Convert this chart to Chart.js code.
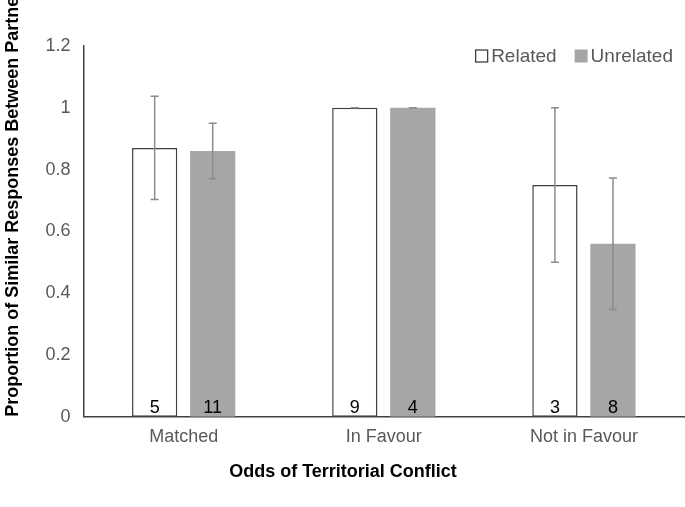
<!DOCTYPE html>
<html>
<head>
<meta charset="utf-8">
<script src="https://cdn.jsdelivr.net/npm/chart.js@4.4.0/dist/chart.umd.min.js"></script>
<style>
  html, body { margin: 0; padding: 0; background: #fff; }
  #wrap { width: 685px; height: 507px; }
</style>
</head>
<body>
<div id="wrap"><canvas id="chart"></canvas></div>
<script>
const categories = ["Matched", "In Favour", "Not in Favour"];
const related = [0.87, 1.0, 0.75];
const unrelated = [0.86, 1.0, 0.56];
const relatedErr = [0.167, 0, 0.25];
const unrelatedErr = [0.09, 0, 0.213];
const relatedN = [5, 9, 3];
const unrelatedN = [11, 4, 8];
const yTicks = [0, 0.2, 0.4, 0.6, 0.8, 1, 1.2];

const FONT = "'Liberation Sans', Arial, sans-serif";
Chart.defaults.font.family = FONT;

// error bars, counts in the bars and the little legend in the corner
const barExtras = {
  id: "barExtras",
  afterDatasetsDraw(chart) {
    const ctx = chart.ctx;
    const y = chart.scales.y;
    const errs = [relatedErr, unrelatedErr];
    const counts = [relatedN, unrelatedN];
    chart.data.datasets.forEach((ds, i) => {
      const meta = chart.getDatasetMeta(i);
      meta.data.forEach((bar, j) => {
        const v = ds.data[j];
        const e = errs[i][j];
        const top = y.getPixelForValue(v + e);
        const bot = y.getPixelForValue(v - e);
        ctx.save();
        ctx.strokeStyle = "#8c8c8c";
        ctx.lineWidth = 1.5;
        ctx.beginPath();
        ctx.moveTo(bar.x, top);
        ctx.lineTo(bar.x, bot);
        ctx.moveTo(bar.x - 4, top);
        ctx.lineTo(bar.x + 4, top);
        ctx.moveTo(bar.x - 4, bot);
        ctx.lineTo(bar.x + 4, bot);
        ctx.stroke();
        ctx.fillStyle = "#000";
        ctx.font = "18px " + FONT;
        ctx.textAlign = "center";
        ctx.textBaseline = "alphabetic";
        ctx.fillText(String(counts[i][j]), bar.x, y.getPixelForValue(0) - 4);
        ctx.restore();
      });
    });

    // legend
    const area = chart.chartArea;
    ctx.save();
    ctx.font = "19px " + FONT;
    ctx.textBaseline = "middle";
    ctx.textAlign = "left";
    const cy = area.top + 10;
    let x = area.right - 11;
    const items = chart.data.datasets.slice().reverse();
    items.forEach((ds) => {
      const w = ctx.measureText(ds.label).width;
      x -= w;
      ctx.fillStyle = "#595959";
      ctx.fillText(ds.label, x, cy + 1);
      x -= 16;
      ctx.fillStyle = ds.backgroundColor;
      ctx.fillRect(x, cy - 6.5, 13, 13);
      if (ds.borderWidth) {
        ctx.strokeStyle = ds.borderColor;
        ctx.lineWidth = 1.3;
        ctx.strokeRect(x + 0.5, cy - 6, 12, 12);
      }
      x -= 18;
    });
    ctx.restore();
  }
};

new Chart(document.getElementById("chart"), {
  type: "bar",
  data: {
    labels: categories,
    datasets: [
      {
        label: "Related",
        data: related,
        backgroundColor: "#ffffff",
        borderColor: "#404040",
        borderWidth: 1.5,
        borderSkipped: false,
      },
      {
        label: "Unrelated",
        data: unrelated,
        backgroundColor: "#a6a6a6",
        borderColor: "#a6a6a6",
        borderWidth: 0,
      },
    ],
  },
  options: {
    responsive: true,
    maintainAspectRatio: false,
    animation: false,
    categoryPercentage: 0.58,
    barPercentage: 0.78,
    layout: { padding: { top: 46, right: 1, left: 2, bottom: 0 } },
    plugins: {
      legend: { display: false },
      title: {
        display: true,
        position: "bottom",
        text: "Odds of Territorial Conflict",
        color: "#000",
        font: { size: 18, weight: "bold" },
        padding: { top: 5, bottom: 24 },
      },
      tooltip: { enabled: false },
    },
    scales: {
      x: {
        grid: { display: false, drawTicks: false },
        border: { color: "#404040", width: 1.5 },
        ticks: { color: "#595959", font: { size: 18 }, padding: 9 },
      },
      y: {
        min: 0,
        max: 1.2,
        afterBuildTicks(scale) {
          scale.ticks = yTicks.map(v => ({ value: v }));
        },
        grid: { display: false, drawTicks: false },
        border: { color: "#404040", width: 1.5 },
        ticks: {
          color: "#595959",
          font: { size: 18 },
          padding: 13,
          callback: (v) => String(v),
        },
        title: {
          display: true,
          text: "Proportion of Similar Responses Between Partners",
          align: "start",
          color: "#000",
          font: { size: 18, weight: "bold" },
          padding: { top: 0, bottom: 9 },
        },
      },
    },
  },
  plugins: [barExtras],
});
</script>
</body>
</html>
